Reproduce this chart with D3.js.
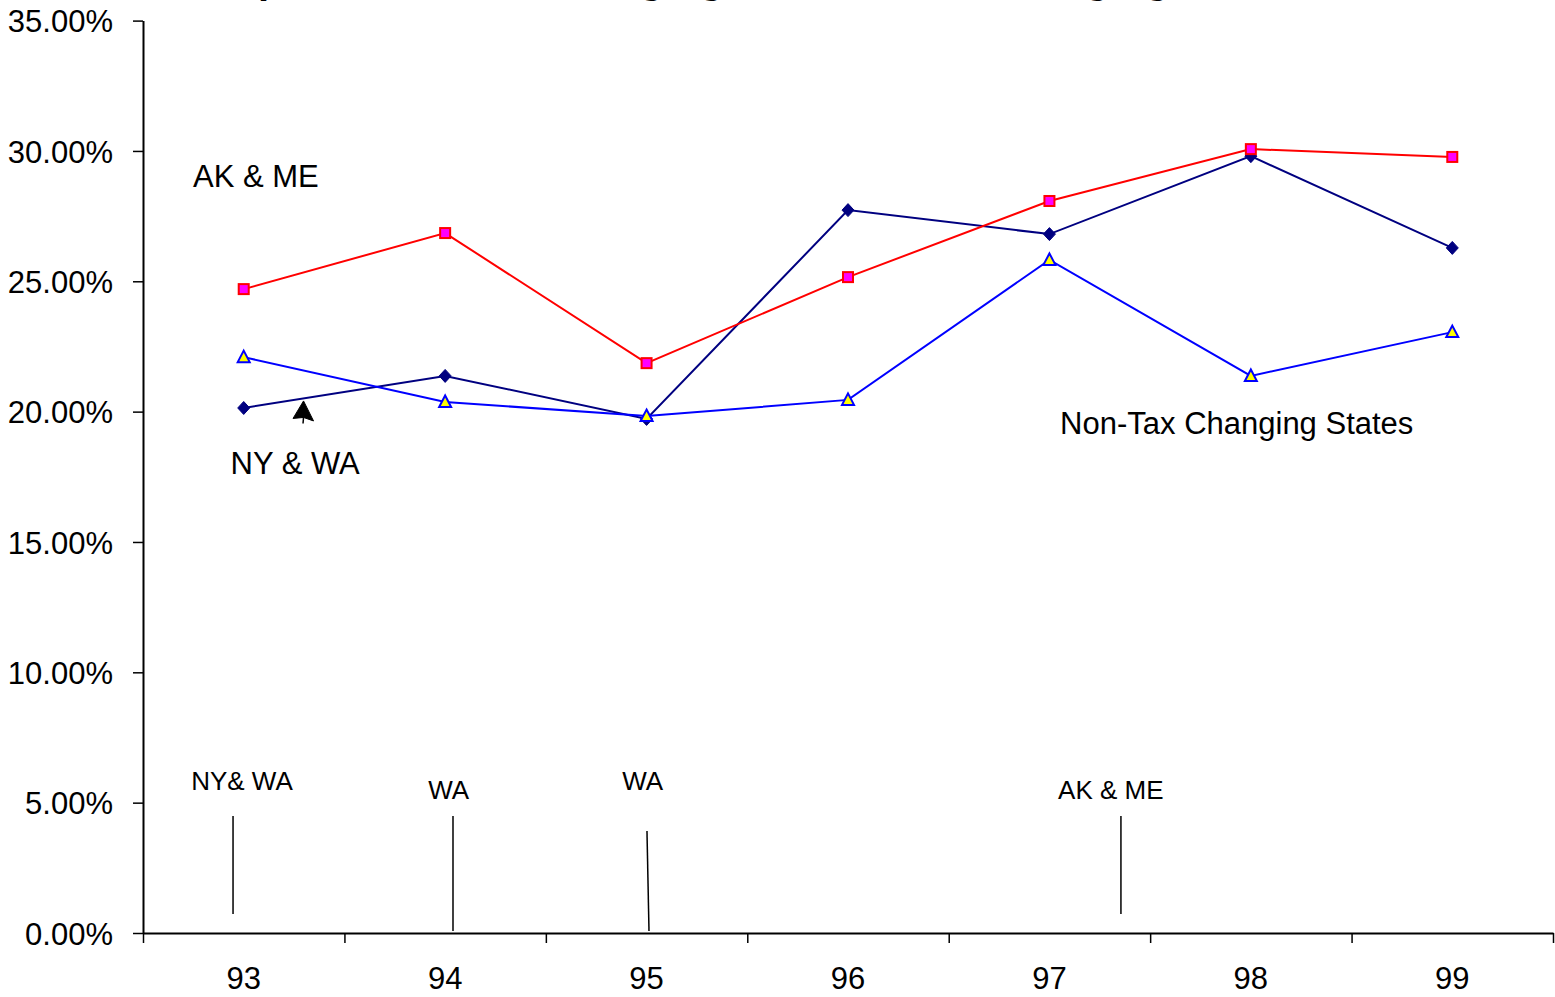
<!DOCTYPE html>
<html>
<head>
<meta charset="utf-8">
<script src="https://cdn.jsdelivr.net/npm/d3@7/dist/d3.min.js"></script>
<style>
  html, body { margin: 0; padding: 0; background: #fff; }
  svg { display: block; font-family: "Liberation Sans", Arial, sans-serif; }
</style>
</head>
<body>
<svg id="chart" width="1555" height="997"></svg>
<script>
// Years on the category axis
const years = ["93", "94", "95", "96", "97", "98", "99"];

// Series values (fraction of 1)
const navySeries = [0.2014, 0.2137, 0.1972, 0.2773, 0.2681, 0.2980, 0.2628];
const redSeries  = [0.2470, 0.2685, 0.2186, 0.2516, 0.2808, 0.3007, 0.2977];
const blueSeries = [0.2209, 0.2037, 0.1983, 0.2045, 0.2582, 0.2137, 0.2305];

// Value-axis ticks
const yTicks = [0, 0.05, 0.10, 0.15, 0.20, 0.25, 0.30, 0.35];

// Free text placed in the plot: [text, category position, value, size]
const noteLabels = [
  ["AK & ME", 0.248, 0.2860, 31],
  ["NY & WA", 0.435, 0.1762, 31],
  ["Non-Tax Changing States", 4.553, 0.1915, 31],
  ["NY& WA", 0.239, 0.0550, 26],
  ["WA", 1.416, 0.0515, 26],
  ["WA", 2.379, 0.0550, 26],
  ["AK & ME", 4.543, 0.0515, 26]
];

// Markers for the tax-change years: [x top, x bottom, value top, value bottom]
const markerLines = [
  [0.447, 0.447, 0.0449, 0.0073],
  [1.539, 1.539, 0.0449, 0.0008],
  [2.502, 2.512, 0.0391, 0.0008],
  [4.855, 4.855, 0.0449, 0.0073]
];

// Arrow pointing at the NY & WA line: [category position, value]
const arrowTip = [0.797, 0.2041];

const svg = d3.select("#chart");
const plotLeft = 143, plotRight = 1553, plotTop = 20.6, plotBottom = 933;

const y = d3.scaleLinear().domain([0, 0.35]).range([plotBottom, plotTop]);
const x = d3.scaleBand().domain(years).range([plotLeft, plotRight]).padding(0);
const xPos = d3.scaleLinear().domain([0, years.length]).range([plotLeft, plotRight]);

// Title (runs above the top edge)
svg.append("text")
  .attr("x", 735).attr("y", -7)
  .attr("text-anchor", "middle")
  .attr("font-size", 40).attr("font-weight", "bold")
  .attr("fill", "#000")
  .text("Comparison of Tax Changing and Non-Tax Changing States");

// Value axis
const yAxis = svg.append("g")
  .attr("transform", `translate(${plotLeft},0)`)
  .call(d3.axisLeft(y).tickValues(yTicks).tickFormat(d3.format(".2%"))
    .tickSize(10).tickSizeOuter(0).tickPadding(20));
yAxis.selectAll("text").attr("font-size", 31).attr("fill", "#000")
  .attr("font-family", "Liberation Sans, Arial, sans-serif").attr("dy", "0.36em");
yAxis.selectAll("line").attr("stroke", "#000").attr("stroke-width", 1.5);
yAxis.select(".domain").attr("stroke", "#000").attr("stroke-width", 2);

// Category axis: tick marks on band edges, labels in band centres
const xTicks = svg.append("g")
  .attr("transform", `translate(0,${plotBottom})`)
  .call(d3.axisBottom(xPos).tickValues(d3.range(years.length + 1))
    .tickFormat("").tickSize(10).tickSizeOuter(0));
xTicks.selectAll("line").attr("stroke", "#000").attr("stroke-width", 1.5);
xTicks.select(".domain").attr("stroke", "#000").attr("stroke-width", 2);

const xLabels = svg.append("g")
  .attr("transform", `translate(0,${plotBottom})`)
  .call(d3.axisBottom(x).tickSize(0).tickPadding(34));
xLabels.select(".domain").remove();
xLabels.selectAll("text").attr("font-size", 31).attr("fill", "#000")
  .attr("font-family", "Liberation Sans, Arial, sans-serif");

// Series lines and markers
const line = d3.line()
  .x((d, i) => x(years[i]) + x.bandwidth() / 2)
  .y(d => y(d));

const series = [
  { values: navySeries, color: "#000080", shape: "diamond" },
  { values: redSeries,  color: "#FF0000", shape: "square" },
  { values: blueSeries, color: "#0000FF", shape: "triangle" }
];

series.forEach(s => {
  svg.append("path")
    .datum(s.values)
    .attr("d", line)
    .attr("fill", "none")
    .attr("stroke", s.color)
    .attr("stroke-width", 2);
});

series.forEach(s => {
  const g = svg.append("g");
  s.values.forEach((v, i) => {
    const cx = x(years[i]) + x.bandwidth() / 2, cy = y(v);
    if (s.shape === "diamond") {
      g.append("path")
        .attr("d", `M${cx},${cy - 6.5}L${cx + 6},${cy}L${cx},${cy + 6.5}L${cx - 6},${cy}Z`)
        .attr("fill", "#000080").attr("stroke", "#000080").attr("stroke-width", 1);
    } else if (s.shape === "square") {
      g.append("rect")
        .attr("x", cx - 5).attr("y", cy - 5).attr("width", 10).attr("height", 10)
        .attr("fill", "#FF00FF").attr("stroke", "#FF0000").attr("stroke-width", 2);
    } else {
      g.append("path")
        .attr("d", `M${cx},${cy - 6.5}L${cx + 6},${cy + 5}L${cx - 6},${cy + 5}Z`)
        .attr("fill", "#FFFF00").attr("stroke", "#0000FF").attr("stroke-width", 2)
        .attr("stroke-linejoin", "miter");
    }
  });
});

// Tax-change year markers
svg.append("g").selectAll("line")
  .data(markerLines)
  .join("line")
  .attr("x1", d => xPos(d[0])).attr("x2", d => xPos(d[1]))
  .attr("y1", d => y(d[2])).attr("y2", d => y(d[3]))
  .attr("stroke", "#000").attr("stroke-width", 1.5);

// Text notes
svg.append("g").selectAll("text")
  .data(noteLabels)
  .join("text")
  .attr("x", d => xPos(d[1]))
  .attr("y", d => y(d[2]))
  .attr("font-size", d => d[3])
  .attr("fill", "#000")
  .text(d => d[0]);

// Arrowhead
const ax = xPos(arrowTip[0]), ay = y(arrowTip[1]);
svg.append("path")
  .attr("d", `M${ax},${ay}L${ax + 10},${ay + 20}L${ax},${ay + 16.5}L${ax - 10.5},${ay + 17.5}Z`)
  .attr("fill", "#000").attr("stroke", "#000").attr("stroke-width", 1);
svg.append("line")
  .attr("x1", ax).attr("y1", ay + 16).attr("x2", ax - 0.5).attr("y2", ay + 22.5)
  .attr("stroke", "#000").attr("stroke-width", 1.5);
</script>
</body>
</html>
